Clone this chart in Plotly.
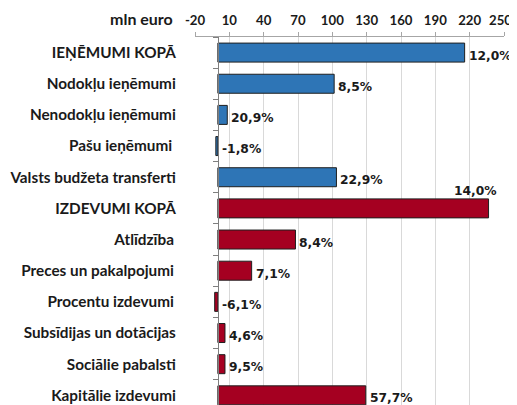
import plotly.graph_objects as go

categories = [
    "IEŅĒMUMI KOPĀ",
    "Nodokļu ieņēmumi",
    "Nenodokļu ieņēmumi",
    "Pašu ieņēmumi\u00a0",
    "Valsts budžeta transferti",
    "IZDEVUMI KOPĀ",
    "Atlīdzība\u2009",
    "Preces un pakalpojumi\u2009",
    "Procentu izdevumi\u2009",
    "Subsīdijas un dotācijas",
    "Sociālie pabalsti",
    "Kapitālie izdevumi",
]
values = [215.6, 101.6, 8.2, -1.8, 103.6, 236.5, 67.8, 29.5, -2.8, 6.2, 6.2, 129.2]
growth_labels = ["12,0%", "8,5%", "20,9%", "-1,8%", "22,9%", "14,0%",
                 "8,4%", "7,1%", "-6,1%", "4,6%", "9,5%", "57,7%"]
groups = ["rev"] * 5 + ["exp"] * 7
tick_values = [-20, 10, 40, 70, 100, 130, 160, 190, 220, 250]

BLUE = "#2E75B6"
RED = "#A50021"
colors = [BLUE if g == "rev" else RED for g in groups]

fig = go.Figure()
fig.add_trace(go.Bar(
    x=values, y=categories, orientation="h",
    marker=dict(color=colors, line=dict(color="#1f1f1f", width=1)),
    width=0.61, hoverinfo="skip",
))

LABEL_FONT = dict(family="DejaVu Sans", size=12.3, color="#1a1a1a", weight="bold")
CAT_FONT = dict(family="Lato", size=15.3, color="#1a1a1a", weight="bold")
TICK_FONT = dict(family="Lato", size=13.2, color="#1a1a1a", weight="bold")
annotations = []
for cat, v, lab in zip(categories, values, growth_labels):
    if cat.startswith("IZDEVUMI"):
        annotations.append(dict(x=v, y=cat, xref="x", yref="y", text=lab, showarrow=False,
                                xanchor="right", yanchor="middle", xshift=10, yshift=17,
                                font=LABEL_FONT))
    else:
        annotations.append(dict(x=max(v, 0), y=cat, xref="x", yref="y", text=lab, showarrow=False,
                                xanchor="left", yanchor="middle", xshift=2, yshift=-3,
                                font=LABEL_FONT))

annotations.append(dict(x=-0.065, y=1.0516, xref="paper", yref="paper", text="mln euro",
                        showarrow=False, xanchor="right", yanchor="middle",
                        font=dict(family="Lato", size=16, color="#1a1a1a", weight="bold")))

# last tick label is nudged left (as in the reference) so it stays inside the page
tick_text = [str(t) for t in tick_values[:-1]] + [""]
annotations.append(dict(x=tick_values[-1], y=1.0516, xref="x", yref="paper",
                        text=str(tick_values[-1]), showarrow=False,
                        xanchor="center", yanchor="middle", xshift=-4, yshift=-2,
                        font=TICK_FONT))

# The page body has an 8px default margin, so the figure is sized/offset to compensate.
fig.update_layout(
    width=509, height=397,
    margin=dict(l=187, r=13, t=29, b=0, pad=0, autoexpand=False),
    paper_bgcolor="white", plot_bgcolor="white",
    showlegend=False,
    annotations=annotations,
    xaxis=dict(
        side="top", range=[-20, 250], tickmode="array", tickvals=tick_values,
        ticktext=tick_text,
        showgrid=True, gridcolor="#d9d9d9", gridwidth=1,
        zeroline=False, showline=True, linecolor="#a6a6a6", linewidth=1,
        ticks="outside", ticklen=4, tickcolor="#a6a6a6",
        ticklabelstandoff=2,
        tickfont=TICK_FONT, automargin=False,
        fixedrange=True,
    ),
    yaxis=dict(
        range=[11.31, -0.5], anchor="free", position=20 / 270,
        showline=True, linecolor="#7f7f7f", linewidth=1,
        ticks="outside", ticklen=5, tickcolor="#7f7f7f", tickson="boundaries",
        showgrid=False, zeroline=False,
        ticklabelstandoff=39, automargin=False,
        tickfont=CAT_FONT,
        fixedrange=True,
    ),
)

fig.write_html("out.html")
